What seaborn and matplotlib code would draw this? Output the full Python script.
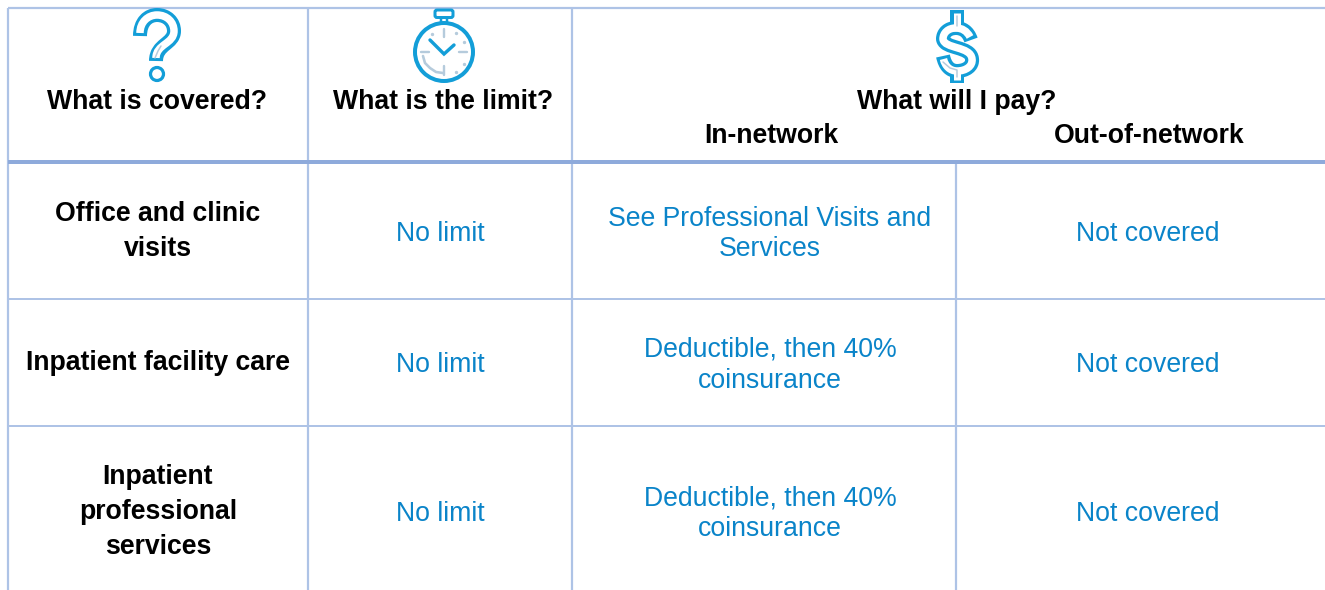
import matplotlib
matplotlib.use("Agg")
import matplotlib.pyplot as plt
import seaborn as sns
from matplotlib.patches import Circle, PathPatch, FancyBboxPatch
from matplotlib.path import Path

header_labels = ["What is covered?", "What is the limit?", "What will I pay?"]
sub_headers = ["In-network", "Out-of-network"]
row_labels = ["Office and clinic\nvisits", "Inpatient facility care", "Inpatient\nprofessional\nservices"]
limit_values = ["No limit", "No limit", "No limit"]
in_network = ["See Professional Visits and\nServices", "Deductible, then 40%\ncoinsurance", "Deductible, then 40%\ncoinsurance"]
out_network = ["Not covered", "Not covered", "Not covered"]

sns.set_theme(style="white")
plt.rcParams["font.family"] = ["Liberation Sans", "DejaVu Sans"]

W, H = 1325, 590
fig = plt.figure(figsize=(W / 100, H / 100), dpi=100)
ax = fig.add_axes([0, 0, 1, 1])
ax.set_xlim(0, W)
ax.set_ylim(H, 0)
ax.axis("off")

THIN = "#aec3e6"
THICK = "#8eaadb"
BLUE = "#0a84c9"
ICON = "#139ed8"
PALE = "#b5cbdc"
px = 0.72

# grid
ax.plot([8, W], [8, 8], color=THIN, lw=2.2 * px, solid_capstyle="butt")
for y in [298.5, 426]:
    ax.plot([8, W], [y, y], color=THIN, lw=2 * px, solid_capstyle="butt")
for x in [8, 308, 572]:
    ax.plot([x, x], [8, H], color=THIN, lw=2.2 * px, solid_capstyle="butt")
ax.plot([956, 956], [162, H], color=THIN, lw=2.2 * px, solid_capstyle="butt")
ax.plot([8, W], [161.5, 161.5], color=THICK, lw=4 * px, solid_capstyle="butt", zorder=3)

# text
FS_B, FS = 19.2, 19.2
bold = dict(fontsize=FS_B, fontweight="bold", color="black", ha="center", va="center", linespacing=1.45)
reg = dict(fontsize=FS, color=BLUE, ha="center", va="center", linespacing=1.24)

for x, label in zip([157, 443, 957], header_labels):
    ax.text(x, 102, label, **bold)
for x, label in zip([771, 1149], sub_headers):
    ax.text(x, 136, label, **bold)

bold_y = [231.5, 363.5, 512]
reg_y = [234, 365.2, 513.8]
for y, ry, a, b, c, d in zip(bold_y, reg_y, row_labels, limit_values, in_network, out_network):
    ax.text(158, y, a, **bold)
    ax.text(440, ry, b, **reg)
    ax.text(770, ry, c, **reg)
    ax.text(1148, ry, d, **reg)

# icons
M, L, C = Path.MOVETO, Path.LINETO, Path.CURVE4

def tube(verts, codes, outer, z=4):
    ax.add_patch(PathPatch(Path(verts, codes), fc="none", ec=ICON, lw=outer * px, capstyle="butt", joinstyle="round", zorder=z))

def core(verts, codes, inner, z=5):
    ax.add_patch(PathPatch(Path(verts, codes), fc="none", ec="white", lw=inner * px, capstyle="butt", joinstyle="round", zorder=z))

# question mark
qc = [M, C, C, C, C, C, C, C, C, C]
tube([(140, 36), (140, 22), (148, 15), (157, 15), (167, 15), (174, 22), (174, 31),
      (174, 44), (156, 44), (156, 61)], qc, 14)
core([(140, 33), (140, 22), (148, 15), (157, 15), (167, 15), (174, 22), (174, 31),
      (174, 44), (156, 44), (156, 58)], qc, 7.5)
ax.add_patch(Circle((157, 74), 6.5, fc="white", ec=ICON, lw=3.2 * px, zorder=6))
ax.plot([155, 158, 161], [58, 51, 46], color=PALE, lw=1.5 * px, zorder=6)

# dollar sign
sc = [M] + [C] * 15
tube([(971, 40), (968, 31), (962, 28), (956, 28), (948, 28), (943, 33), (943, 39),
      (944, 49), (971, 46), (972, 59), (973, 66), (966, 71), (957, 71),
      (950, 71), (945, 66), (943, 56)], sc, 14)
core([(970, 37), (967, 31), (962, 28), (956, 28), (948, 28), (943, 33), (943, 39),
      (944, 49), (971, 46), (972, 59), (973, 66), (966, 71), (957, 71),
      (950, 71), (945, 66), (943.5, 59)], sc, 7.5)
tube([(957, 10), (957, 28)], [M, L], 14)
tube([(957, 70), (957, 83)], [M, L], 14)
core([(957, 13), (957, 31)], [M, L], 7)
core([(957, 68), (957, 80)], [M, L], 7)
ax.plot([957, 957], [16, 26], color=PALE, lw=1.5 * px, zorder=6)
ax.plot([943, 950, 957, 957], [62, 68, 70, 77], color=PALE, lw=1.5 * px, zorder=6)

# stopwatch
cx, cy, r = 444, 52, 29
ax.add_patch(Circle((cx, cy), r, fc="white", ec=ICON, lw=4 * px, zorder=4))
ax.add_patch(FancyBboxPatch((437, 12), 14, 3.5, boxstyle="round,pad=2", fc="white", ec=ICON, lw=3 * px, zorder=4))
ax.plot([441, 441], [18, 22], color=ICON, lw=2.5 * px, zorder=4)
ax.plot([447, 447], [18, 22], color=ICON, lw=2.5 * px, zorder=4)
ax.plot([430, 444, 454], [40, 54, 45], color=ICON, lw=3.4 * px, zorder=5, solid_joinstyle="miter")
for seg in [([444, 444], [29, 37]), ([444, 444], [66, 75]), ([421, 429], [52, 52]), ([459, 467], [52, 52])]:
    ax.plot(seg[0], seg[1], color=PALE, lw=2.4 * px, zorder=5)
ax.plot([423, 425, 430, 436, 443], [56, 63, 68, 72, 73], color=PALE, lw=2.6 * px, zorder=5)
ax.scatter([432, 456, 464, 464, 456], [34, 33, 42, 64, 72], s=2, color=PALE, zorder=5)

fig.savefig("out.png", dpi=100)
